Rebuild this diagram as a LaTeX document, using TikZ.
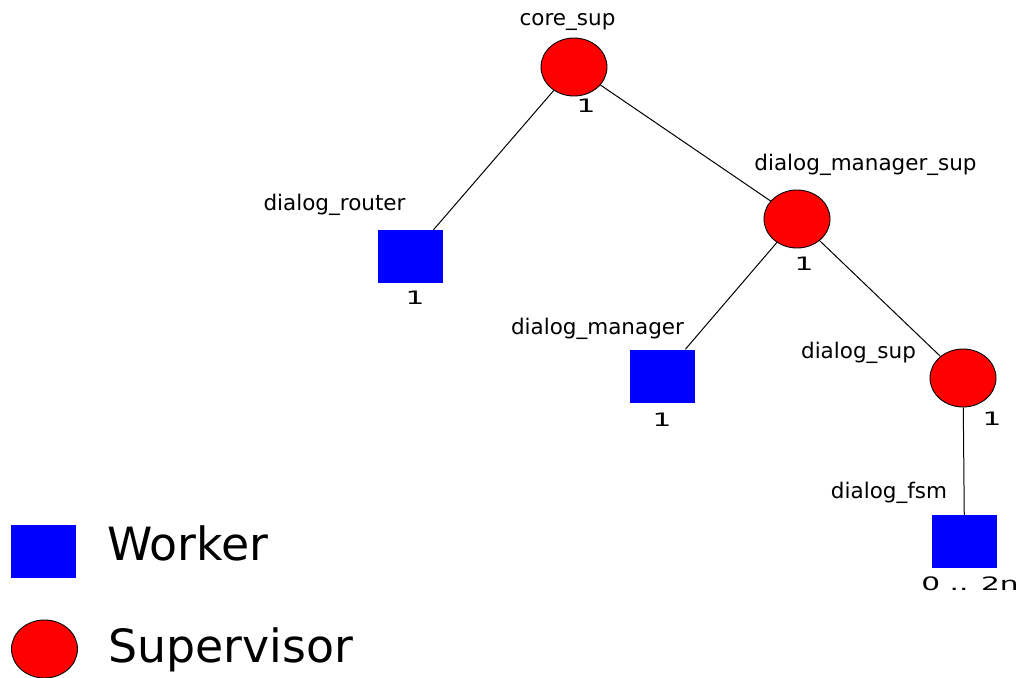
\documentclass[tikz,border=0pt]{standalone}
\usepackage{fontspec}
\usepackage{graphicx}
\setmainfont{DejaVu Sans}
\usetikzlibrary{shapes.geometric}
\tikzset{
  sup/.style={ellipse,draw=black,line width=0.9pt,fill=red,minimum width=66pt,minimum height=58pt,inner sep=0pt},
  wrk/.style={rectangle,fill=blue,minimum width=65pt,minimum height=53pt,inner sep=0pt},
  lbl/.style={anchor=base,inner sep=0pt,font=\fontsize{21.5}{24}\selectfont},
  cnt/.style={anchor=base,inner sep=0pt,font=\fontsize{18.5}{20}\selectfont},
  leg/.style={anchor=base west,inner sep=0pt,font=\fontsize{45.8}{50}\selectfont},
  edge/.style={draw=black,line width=1pt}
}
\newcommand{\wide}[1]{\scalebox{1.6}[1]{#1}}
\begin{document}
\begin{tikzpicture}[x=1pt,y=-1pt]
\useasboundingbox (0,0) rectangle (1024,677);
% nodes
\node[sup] (core) at (574,67) {};
\node[sup] (dms) at (797,219) {};
\node[sup] (ds) at (963,378) {};
\node[wrk] (router) at (410.5,256.5) {};
\node[wrk] (dm) at (662.5,376) {};
\node[wrk] (fsm) at (964.5,541.5) {};
% edges
\draw[edge] (core) -- (router);
\draw[edge] (core) -- (dms);
\draw[edge] (dms) -- (dm);
\draw[edge] (dms) -- (ds);
\draw[edge] (ds) -- (fsm);
% labels
\node[lbl] (lcore) at (567.5,26) {core\_sup};
\node[lbl] (ldms) at (865.5,170) {dialog\_manager\_sup};
\node[lbl] (lrouter) at (334.5,210) {dialog\_router};
\node[lbl] (ldm) at (597.5,334) {dialog\_manager};
\node[lbl] (lds) at (858.5,358) {dialog\_sup};
\node[lbl] (lfsm) at (889,498) {dialog\_fsm};
% counts
\node[cnt] (ccore) at (586,112) {\wide{1}};
\node[cnt] (crouter) at (415,304) {\wide{1}};
\node[cnt] (cdms) at (804,270) {\wide{1}};
\node[cnt] (cdm) at (662,426) {\wide{1}};
\node[cnt] (cds) at (992,425) {\wide{1}};
\node[cnt] (cfsm) at (970,590) {\wide{0 .. 2n}};
% legend
\node[wrk] (legw) at (43.5,551) {};
\node[sup] (legs) at (44.5,649) {};
\node[leg] (tw) at (107,560) {Worker};
\node[leg] (ts) at (108,662) {Supervisor};
\end{tikzpicture}
\end{document}
